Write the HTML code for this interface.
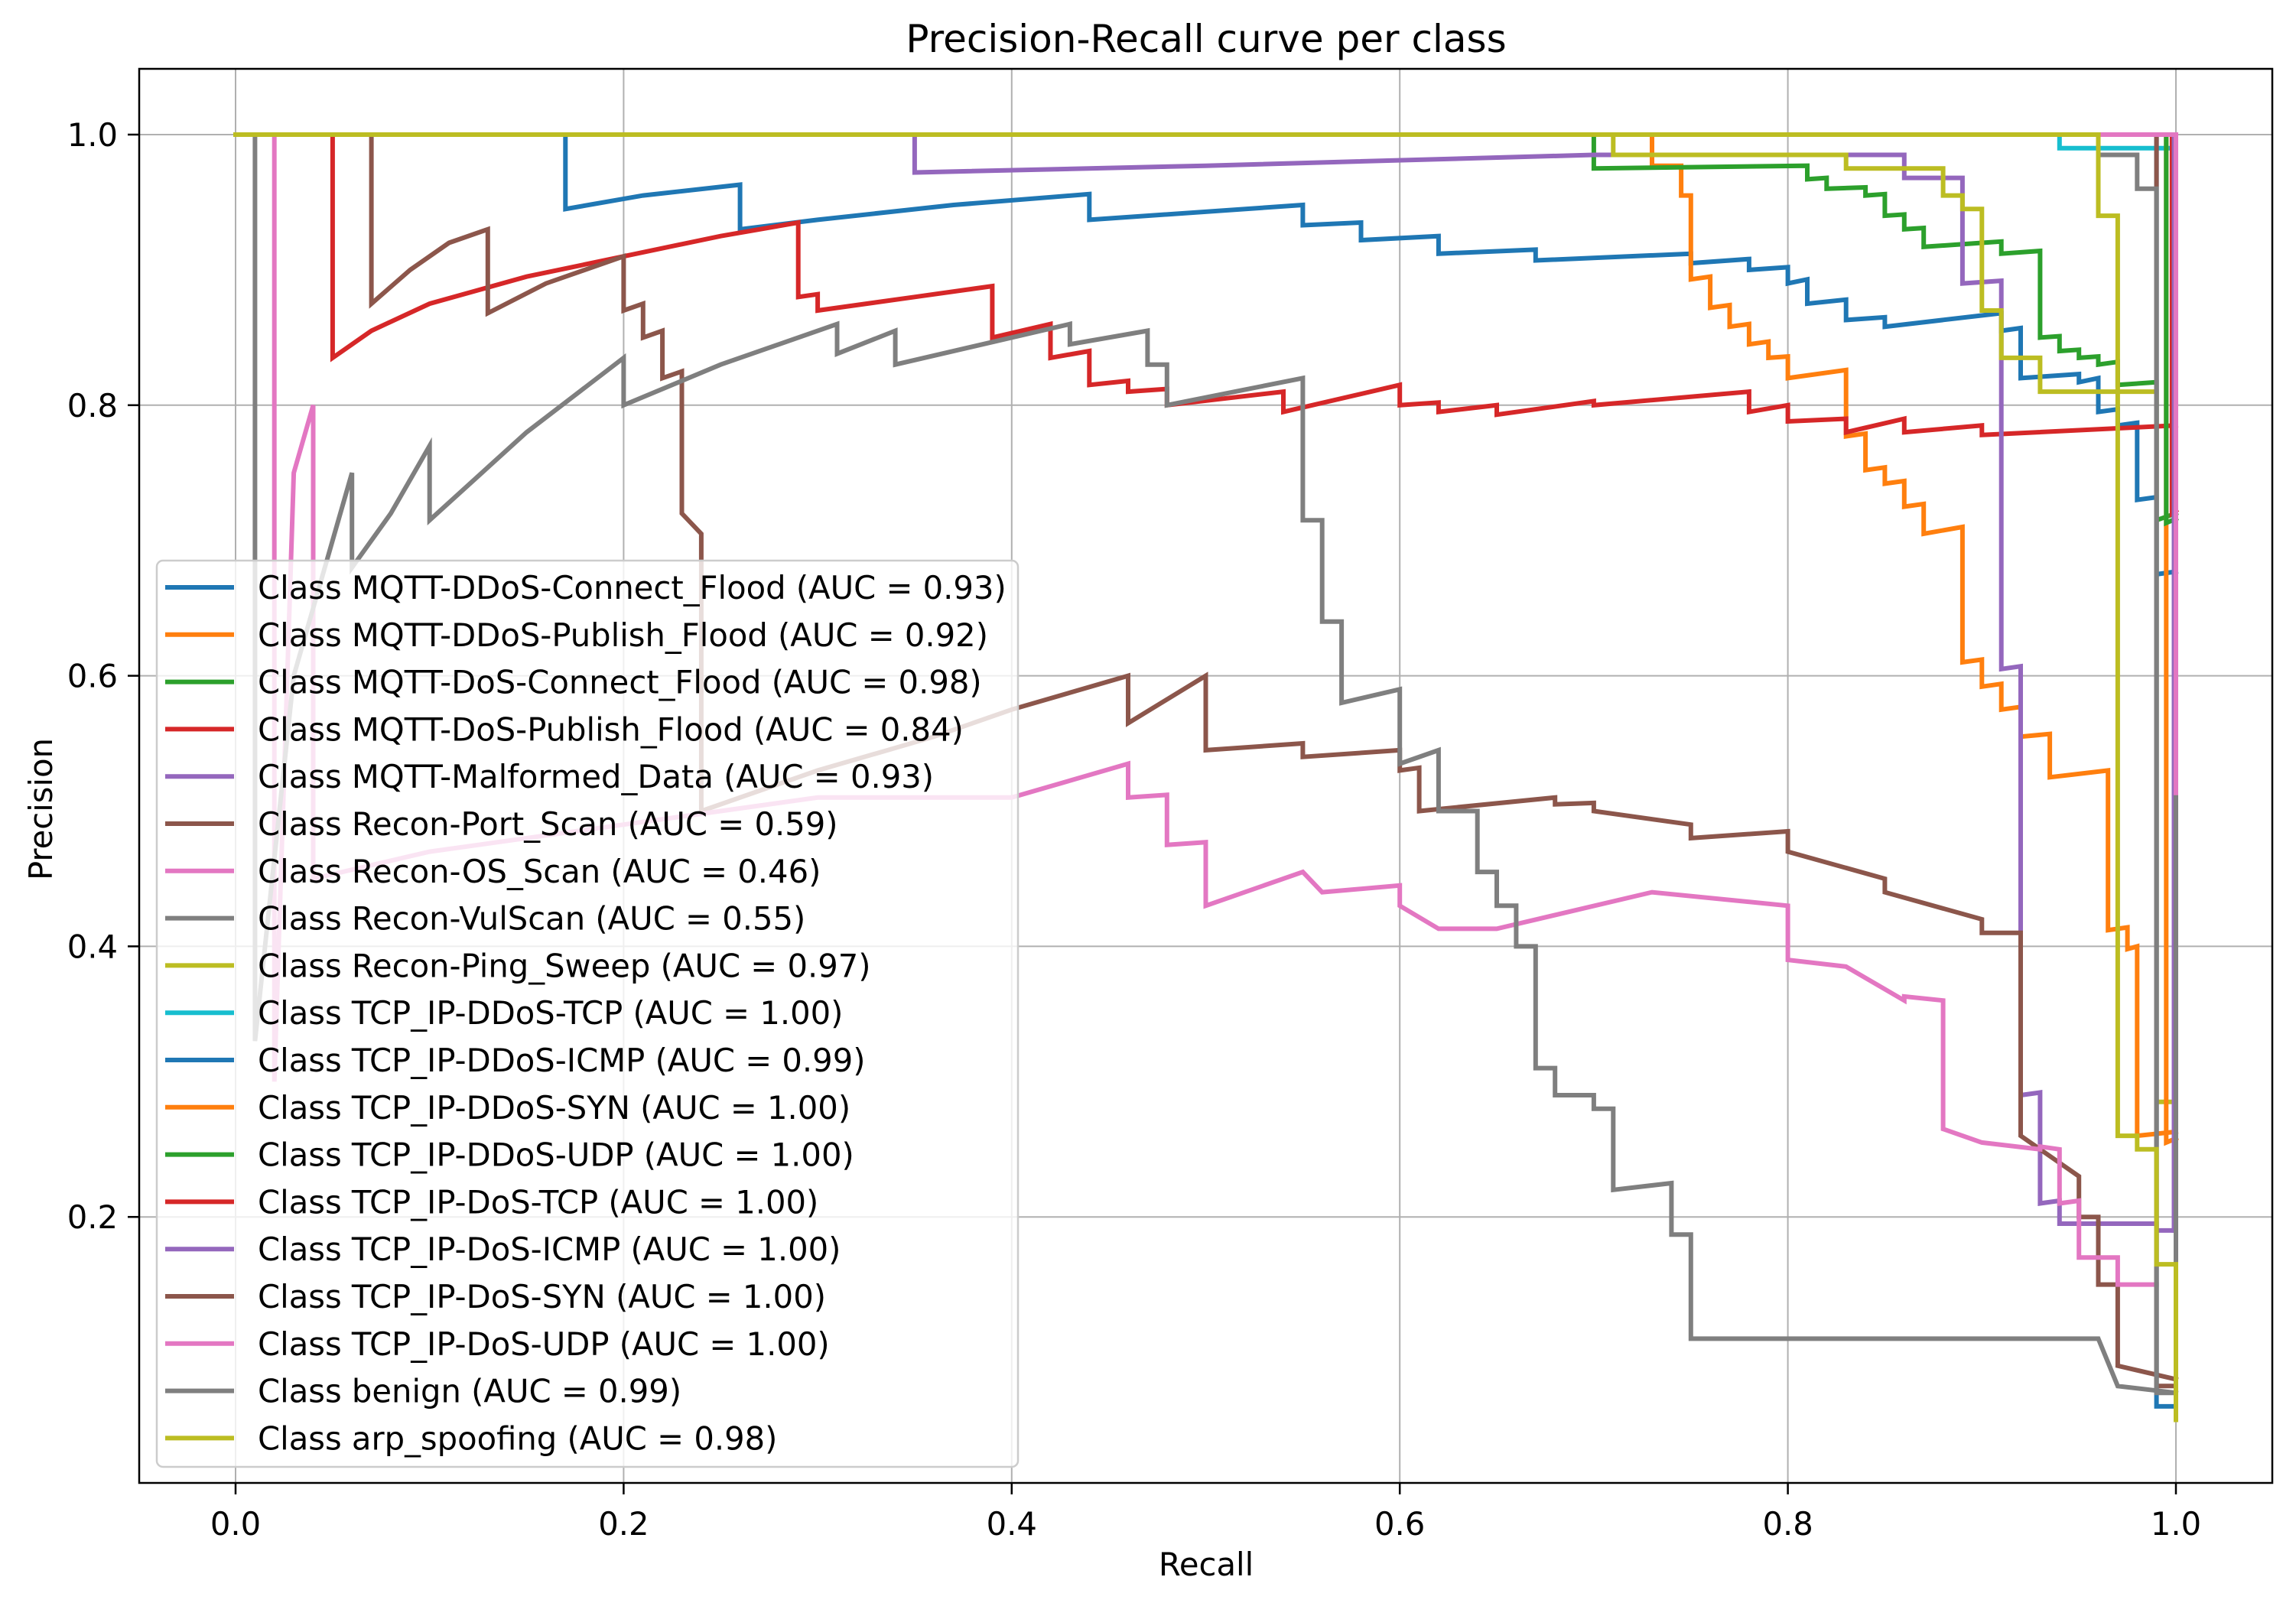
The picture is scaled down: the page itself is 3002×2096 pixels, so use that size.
<!DOCTYPE html>
<html><head><meta charset="utf-8">
<style>
html,body{margin:0;padding:0;background:#fff;}
svg{display:block;font-family:"DejaVu Sans","Liberation Sans",sans-serif;}
</style></head>
<body>
<svg id="chart" width="3002" height="2096" viewBox="0 0 3002 2096" xmlns="http://www.w3.org/2000/svg">
<rect x="0" y="0" width="3002" height="2096" fill="#fff"/>
<g id="grid"></g>
<g id="series"></g>
<g id="axes"></g>
<g id="legend"></g>
<text x="1577" y="68" font-size="50" text-anchor="middle" fill="#000">Precision-Recall curve per class</text>
<text x="1577" y="2060" font-size="41.7" text-anchor="middle" fill="#000">Recall</text>
<text x="0" y="0" font-size="41.7" text-anchor="middle" fill="#000" transform="translate(68,1058) rotate(-90)">Precision</text>
</svg>
<script>
const xTicks = [0.0, 0.2, 0.4, 0.6, 0.8, 1.0];
const yTicks = [0.2, 0.4, 0.6, 0.8, 1.0];
const classNames = ["MQTT-DDoS-Connect_Flood","MQTT-DDoS-Publish_Flood","MQTT-DoS-Connect_Flood","MQTT-DoS-Publish_Flood","MQTT-Malformed_Data","Recon-Port_Scan","Recon-OS_Scan","Recon-VulScan","Recon-Ping_Sweep","TCP_IP-DDoS-TCP","TCP_IP-DDoS-ICMP","TCP_IP-DDoS-SYN","TCP_IP-DDoS-UDP","TCP_IP-DoS-TCP","TCP_IP-DoS-ICMP","TCP_IP-DoS-SYN","TCP_IP-DoS-UDP","benign","arp_spoofing"];
const aucValues = ["0.93","0.92","0.98","0.84","0.93","0.59","0.46","0.55","0.97","1.00","0.99","1.00","1.00","1.00","1.00","1.00","1.00","0.99","0.98"];
const colors = ["#1f77b4","#ff7f0e","#2ca02c","#d62728","#9467bd","#8c564b","#e377c2","#7f7f7f","#bcbd22","#17becf"];

const recall0 = [0,0.17,0.17,0.21,0.26,0.26,0.3,0.37,0.44,0.44,0.55,0.55,0.58,0.58,0.62,0.62,0.67,0.67,0.75,0.75,0.78,0.78,0.8,0.8,0.81,0.81,0.83,0.83,0.85,0.85,0.91,0.91,0.92,0.92,0.95,0.95,0.96,0.96,0.97,0.97,0.98,0.98,0.99,0.99,1];
const prec0 = [1,1,0.945,0.955,0.963,0.93,0.937,0.948,0.956,0.937,0.948,0.933,0.935,0.922,0.925,0.912,0.915,0.907,0.912,0.905,0.908,0.9,0.902,0.89,0.893,0.875,0.878,0.863,0.865,0.858,0.868,0.855,0.857,0.82,0.823,0.817,0.82,0.795,0.797,0.785,0.787,0.73,0.732,0.675,0.677];
const recall1 = [0,0.73,0.73,0.745,0.745,0.75,0.75,0.76,0.76,0.77,0.77,0.78,0.78,0.79,0.79,0.8,0.8,0.83,0.83,0.84,0.84,0.85,0.85,0.86,0.86,0.87,0.87,0.89,0.89,0.9,0.9,0.91,0.91,0.92,0.92,0.935,0.935,0.965,0.965,0.975,0.975,0.98,0.98,1];
const prec1 = [1,1,0.977,0.977,0.955,0.955,0.893,0.895,0.872,0.874,0.858,0.86,0.845,0.847,0.835,0.836,0.82,0.826,0.777,0.779,0.752,0.754,0.742,0.744,0.725,0.727,0.705,0.71,0.61,0.612,0.592,0.594,0.575,0.577,0.555,0.557,0.525,0.53,0.412,0.414,0.398,0.4,0.26,0.263];
const recall2 = [0,0.7,0.7,0.81,0.81,0.82,0.82,0.84,0.84,0.85,0.85,0.86,0.86,0.87,0.87,0.9,0.9,0.91,0.91,0.93,0.93,0.94,0.94,0.95,0.95,0.96,0.96,0.97,0.97,0.99,0.99,1];
const prec2 = [1,1,0.975,0.977,0.967,0.968,0.96,0.961,0.955,0.956,0.94,0.941,0.93,0.931,0.917,0.92,0.92,0.921,0.912,0.914,0.85,0.851,0.84,0.841,0.835,0.836,0.83,0.832,0.815,0.817,0.715,0.72];
const recall3 = [0,0.05,0.05,0.07,0.1,0.15,0.2,0.25,0.29,0.29,0.3,0.3,0.35,0.39,0.39,0.42,0.42,0.44,0.44,0.46,0.46,0.48,0.48,0.54,0.54,0.6,0.6,0.62,0.62,0.65,0.65,0.7,0.7,0.78,0.78,0.8,0.8,0.83,0.83,0.86,0.86,0.9,0.9,1];
const prec3 = [1,1,0.835,0.855,0.875,0.895,0.91,0.925,0.935,0.88,0.882,0.87,0.88,0.888,0.85,0.86,0.835,0.84,0.815,0.818,0.81,0.812,0.8,0.81,0.795,0.815,0.8,0.802,0.795,0.8,0.793,0.803,0.8,0.81,0.795,0.8,0.788,0.79,0.78,0.79,0.78,0.785,0.778,0.785];
const recall4 = [0,0.35,0.35,0.5,0.7,0.86,0.86,0.89,0.89,0.91,0.91,0.92,0.92,0.93,0.93,0.94,0.94,0.99,0.99,1];
const prec4 = [1,1,0.972,0.977,0.985,0.985,0.968,0.968,0.89,0.892,0.605,0.607,0.29,0.292,0.21,0.212,0.195,0.195,0.19,0.19];
const recall5 = [0,0.07,0.07,0.09,0.11,0.13,0.13,0.16,0.2,0.2,0.21,0.21,0.22,0.22,0.23,0.23,0.24,0.24,0.3,0.36,0.4,0.46,0.46,0.5,0.5,0.55,0.55,0.6,0.6,0.61,0.61,0.68,0.68,0.7,0.7,0.75,0.75,0.8,0.8,0.85,0.85,0.9,0.9,0.92,0.92,0.95,0.95,0.96,0.96,0.97,0.97,1];
const prec5 = [1,1,0.875,0.9,0.92,0.93,0.868,0.89,0.91,0.87,0.875,0.85,0.855,0.82,0.825,0.72,0.705,0.5,0.53,0.555,0.575,0.6,0.565,0.6,0.545,0.55,0.54,0.545,0.53,0.532,0.5,0.51,0.505,0.506,0.5,0.49,0.48,0.485,0.47,0.45,0.44,0.42,0.41,0.41,0.26,0.23,0.2,0.2,0.15,0.15,0.09,0.08];
const recall6 = [0,0.02,0.02,0.03,0.04,0.04,0.1,0.2,0.3,0.4,0.46,0.46,0.48,0.48,0.5,0.5,0.55,0.56,0.6,0.6,0.62,0.65,0.73,0.8,0.8,0.83,0.86,0.86,0.88,0.88,0.9,0.93,0.93,0.94,0.94,0.95,0.95,0.97,0.97,0.99];
const prec6 = [1,1,0.3,0.75,0.8,0.45,0.47,0.49,0.51,0.51,0.535,0.51,0.512,0.475,0.477,0.43,0.455,0.44,0.445,0.43,0.413,0.413,0.44,0.43,0.39,0.385,0.36,0.363,0.36,0.265,0.255,0.25,0.252,0.25,0.21,0.212,0.17,0.17,0.15,0.15];
const recall7 = [0,0.01,0.01,0.03,0.06,0.06,0.08,0.1,0.1,0.15,0.2,0.2,0.25,0.31,0.31,0.34,0.34,0.43,0.43,0.47,0.47,0.48,0.48,0.55,0.55,0.56,0.56,0.57,0.57,0.6,0.6,0.62,0.62,0.64,0.64,0.65,0.65,0.66,0.66,0.67,0.67,0.68,0.68,0.7,0.7,0.71,0.71,0.74,0.74,0.75,0.75,0.9,0.96,0.96,0.97,0.97,1];
const prec7 = [1,1,0.33,0.6,0.75,0.68,0.72,0.77,0.715,0.78,0.835,0.8,0.83,0.86,0.838,0.855,0.83,0.86,0.845,0.855,0.83,0.83,0.8,0.82,0.715,0.715,0.64,0.64,0.58,0.59,0.535,0.545,0.5,0.5,0.455,0.455,0.43,0.43,0.4,0.4,0.31,0.31,0.29,0.29,0.28,0.28,0.22,0.225,0.187,0.187,0.11,0.11,0.11,0.11,0.075,0.075,0.07];
const recall8 = [0,0.71,0.71,0.83,0.83,0.88,0.88,0.89,0.89,0.9,0.9,0.91,0.91,0.93,0.93,0.99,0.99,1];
const prec8 = [1,1,0.985,0.985,0.975,0.975,0.955,0.955,0.945,0.945,0.87,0.87,0.835,0.835,0.81,0.81,0.285,0.285];
const recall9 = [0,0.94,0.94,1,1];
const prec9 = [1,1,0.99,0.99,0.98];
const recall10 = [0,0.99,0.99,1];
const prec10 = [1,1,0.06,0.06];
const recall11 = [0,0.995,0.995,1];
const prec11 = [1,1,0.255,0.258];
const recall12 = [0,0.995,0.995,1];
const prec12 = [1,1,0.713,0.716];
const recall13 = [0,0.998,0.998,1];
const prec13 = [1,1,0.72,0.722];
const recall14 = [0,0.999,0.999,1];
const prec14 = [1,1,0.19,0.19];
const recall15 = [0,0.99,0.99,1];
const prec15 = [1,1,0.075,0.075];
const recall16 = [0,1,1];
const prec16 = [1,1,0.13];
const recall17 = [0,0.96,0.96,0.98,0.98,0.99,0.99,1,1];
const prec17 = [1,1,0.985,0.985,0.96,0.96,0.07,0.07,0.51];
const recall18 = [0,0.96,0.96,0.97,0.97,0.98,0.98,0.99,0.99,1,1];
const prec18 = [1,1,0.94,0.94,0.26,0.26,0.25,0.25,0.165,0.165,0.05];

const recalls = [recall0,recall1,recall2,recall3,recall4,recall5,recall6,recall7,recall8,recall9,recall10,recall11,recall12,recall13,recall14,recall15,recall16,recall17,recall18];
const precs = [prec0,prec1,prec2,prec3,prec4,prec5,prec6,prec7,prec8,prec9,prec10,prec11,prec12,prec13,prec14,prec15,prec16,prec17,prec18];

const NS = "http://www.w3.org/2000/svg";
const L = 182, R = 2971, T = 90, B = 1939;
function xs(r){ return 308 + r * 2537; }
function ys(p){ return 176 + (1 - p) * 1769; }
function mk(tag, attrs, parent){ const e = document.createElementNS(NS, tag); for (const k in attrs) e.setAttribute(k, attrs[k]); parent.appendChild(e); return e; }

const grid = document.getElementById('grid');
const axes = document.getElementById('axes');
xTicks.forEach(t => {
  const g = mk('line', {x1: xs(t), x2: xs(t), y1: T, y2: B, stroke: '#b0b0b0', 'stroke-width': 2}, grid);
  
  
  const tk = mk('line', {x1: xs(t), x2: xs(t), y1: B, y2: B + 15, stroke: '#000', 'stroke-width': 2.5}, axes);
  
  
  const tx = mk('text', {x: xs(t), y: B + 68, 'font-size': 41.7, 'text-anchor': 'middle', fill: '#000'}, axes);
  tx.textContent = t.toFixed(1);
  
  
});
yTicks.forEach(t => {
  const g = mk('line', {x1: L, x2: R, y1: ys(t), y2: ys(t), stroke: '#b0b0b0', 'stroke-width': 2}, grid);
  
  
  const tk = mk('line', {x1: L - 15, x2: L, y1: ys(t), y2: ys(t), stroke: '#000', 'stroke-width': 2.5}, axes);
  
  
  const tx = mk('text', {x: L - 28, y: ys(t) + 15, 'font-size': 41.7, 'text-anchor': 'end', fill: '#000'}, axes);
  tx.textContent = t.toFixed(1);
  
  
});
const frame = mk('rect', {x: L, y: T, width: R - L, height: B - T, fill: 'none', stroke: '#000', 'stroke-width': 2.5}, axes);



const series = document.getElementById('series');
recalls.forEach((rc, i) => {
  const pr = precs[i];
  const pts = rc.map((r, j) => xs(r).toFixed(1) + ',' + ys(pr[j]).toFixed(1)).join(' ');
  const pl = mk('polyline', {points: pts, fill: 'none', stroke: colors[i % 10], 'stroke-width': 6, 'stroke-linejoin': 'miter', 'stroke-linecap': 'square'}, series);
  
  
});

const legend = document.getElementById('legend');
const lb = mk('rect', {x: 205, y: 733, width: 1126, height: 1185, rx: 8, fill: 'rgba(255,255,255,0.8)', stroke: '#cccccc', 'stroke-width': 2.5}, legend);


classNames.forEach((n, i) => {
  const y = 768 + i * 61.8;
  const h = mk('line', {x1: 216, x2: 306, y1: y, y2: y, stroke: colors[i % 10], 'stroke-width': 6}, legend);
  
  
  const t = mk('text', {x: 337, y: y + 15, 'font-size': 41.7, fill: '#000'}, legend);
  t.textContent = 'Class ' + n + ' (AUC = ' + aucValues[i] + ')';
  
  
});
</script>
</body></html>
